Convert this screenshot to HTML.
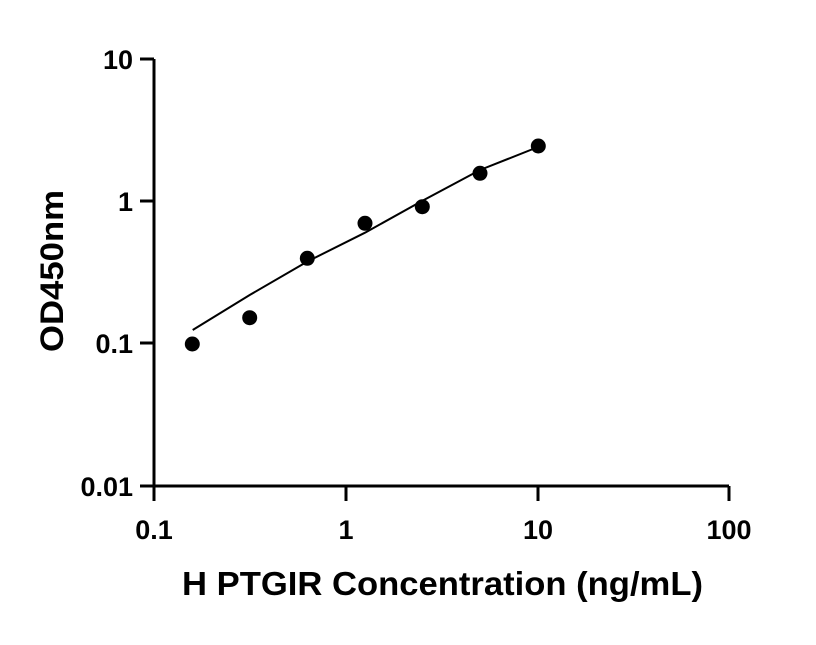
<!DOCTYPE html>
<html><head><style>body{margin:0;background:#fff}</style></head><body>
<svg width="816" height="640" xmlns="http://www.w3.org/2000/svg" font-family="Liberation Sans, sans-serif" font-weight="bold">
<rect width="816" height="640" fill="#fff"/>
<g stroke="#000" stroke-width="3" fill="none">
<path d="M154,59 V486 H729"/>
<path d="M140,59H154 M140,201H154 M140,343H154 M140,486H154"/>
<path d="M154,486V501 M346,486V501 M538,486V501 M729,486V501"/>
</g>
<g font-size="27" text-anchor="end" fill="#000">
<text x="133" y="69">10</text>
<text x="133" y="211">1</text>
<text x="133" y="353">0.1</text>
<text x="133" y="496">0.01</text>
</g>
<g font-size="27" text-anchor="middle" fill="#000">
<text x="154" y="539">0.1</text>
<text x="346" y="539">1</text>
<text x="538" y="539">10</text>
<text x="729" y="539">100</text>
</g>
<text x="182" y="595" font-size="33" textLength="521" lengthAdjust="spacingAndGlyphs">H PTGIR Concentration (ng/mL)</text>
<text transform="translate(63,352) rotate(-90)" font-size="32" textLength="162" lengthAdjust="spacingAndGlyphs">OD450nm</text>
<path d="M192.7,330 L249.7,295 L307,261.7 L365,232.7 L422,201 L480,170 L538,147" stroke="#000" stroke-width="2" fill="none"/>
<g fill="#000">
<circle cx="192.3" cy="344" r="7.5"/>
<circle cx="249.7" cy="317.7" r="7.5"/>
<circle cx="307.3" cy="258.3" r="7.5"/>
<circle cx="365" cy="223.3" r="7.5"/>
<circle cx="422.3" cy="206.7" r="7.5"/>
<circle cx="480" cy="173.3" r="7.5"/>
<circle cx="538.3" cy="146" r="7.5"/>
</g>
</svg>
</body></html>
